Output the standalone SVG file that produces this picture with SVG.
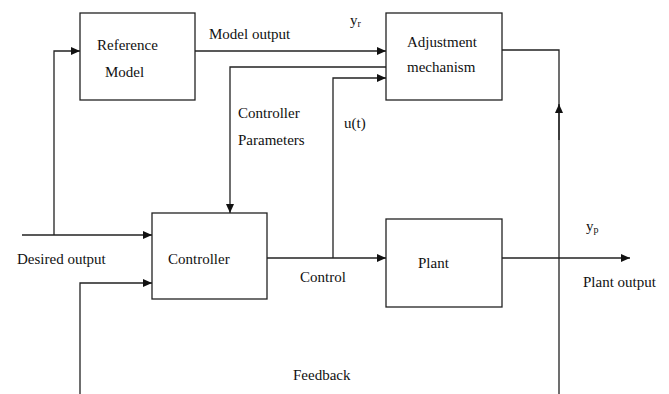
<svg xmlns="http://www.w3.org/2000/svg" width="669" height="394" viewBox="0 0 669 394">
<defs>
<marker id="ah" markerWidth="9" markerHeight="8" refX="9" refY="4" orient="auto" markerUnits="userSpaceOnUse">
<path d="M0,0 L9,4 L0,8 Z" fill="#111"/>
</marker>
</defs>
<style>
.box{fill:#fff;stroke:#222;stroke-width:1.3}
.ln{fill:none;stroke:#222;stroke-width:1.3}
text{font-family:"Liberation Serif","Times New Roman",serif;font-size:15px;fill:#111}
.sub{font-size:10px}
</style>
<rect width="669" height="394" fill="#fff"/>
<g id="connectors">
<path class="ln" d="M22,235 L152,235" marker-end="url(#ah)"/>
<path class="ln" d="M54,235 L54,51 L80,51" marker-end="url(#ah)"/>
<path class="ln" d="M195,51 L386,51" marker-end="url(#ah)"/>
<path class="ln" d="M386,67 L230,67 L230,213" marker-end="url(#ah)"/>
<path class="ln" d="M333,258 L333,78 L386,78" marker-end="url(#ah)"/>
<path class="ln" d="M267,258 L386,258" marker-end="url(#ah)"/>
<path class="ln" d="M502,258 L630,258" marker-end="url(#ah)"/>
<path class="ln" d="M502,50 L559,50 L559,394"/>
<path class="ln" d="M559,140 L559,104" marker-end="url(#ah)"/>
<path class="ln" d="M80,394 L80,283 L152,283" marker-end="url(#ah)"/>
</g>
<g id="reference-model">
<rect class="box" x="80" y="13" width="115" height="87"/>
<text x="97" y="50">Reference</text>
<text x="105" y="77">Model</text>
</g>
<g id="adjustment-mechanism">
<rect class="box" x="386" y="13" width="116" height="87"/>
<text x="407" y="47">Adjustment</text>
<text x="407" y="72">mechanism</text>
</g>
<g id="controller">
<rect class="box" x="152" y="213" width="115" height="86"/>
<text x="168" y="264">Controller</text>
</g>
<g id="plant">
<rect class="box" x="386" y="219" width="116" height="88"/>
<text x="418" y="268">Plant</text>
</g>
<g id="labels">
<text x="209" y="39">Model output</text>
<text x="350" y="25">y<tspan class="sub" dy="2">r</tspan></text>
<text x="238" y="118">Controller</text>
<text x="238" y="145">Parameters</text>
<text x="344" y="128">u(t)</text>
<text x="17" y="264">Desired output</text>
<text x="300" y="282">Control</text>
<text x="586" y="231">y<tspan class="sub" dy="2">p</tspan></text>
<text x="583" y="287">Plant output</text>
<text x="293" y="380">Feedback</text>
</g>
</svg>
